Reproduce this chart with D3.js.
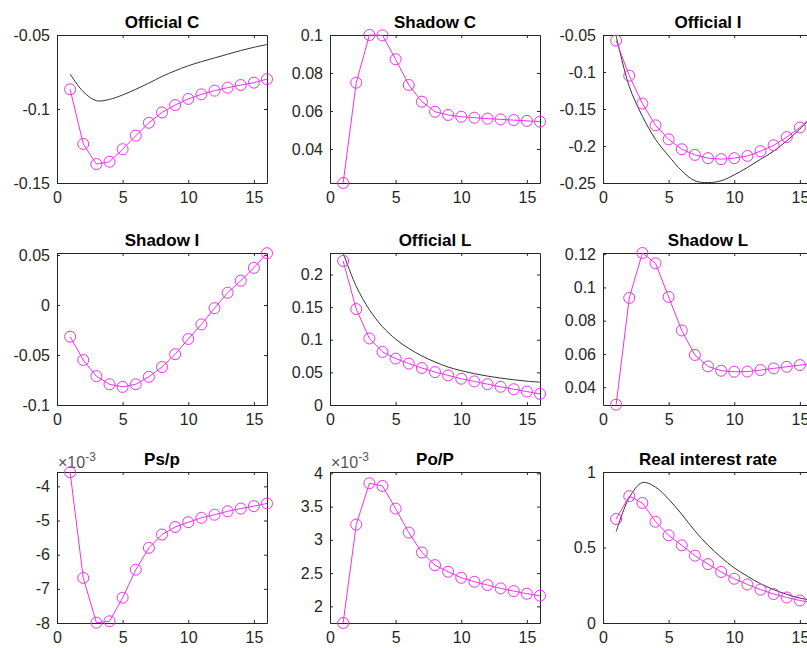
<!DOCTYPE html>
<html>
<head>
<meta charset="utf-8">
<script src="https://cdn.jsdelivr.net/npm/d3@7"></script>
<style>
    body { margin: 0; background: #fff; }
    svg { display: block; font-family: "Liberation Sans", Arial, Helvetica, sans-serif; }
</style>
</head>
<body>
<svg id="chart"></svg>
<script>
// periods on the x axis
const periods = [1, 2, 3, 4, 5, 6, 7, 8, 9, 10, 11, 12, 13, 14, 15, 16];
const xTicks = [0, 5, 10, 15];

// magenta series (circles) and black series (smooth line), one pair per panel
const officialC_circ = [-0.0867, -0.1236, -0.1372, -0.1356, -0.1272, -0.118, -0.1093, -0.1023, -0.0973, -0.0932, -0.0901, -0.0876, -0.0856, -0.0838, -0.0822, -0.0798];
const officialC_line = [-0.0764, -0.0883, -0.0944, -0.0935, -0.0905, -0.0867, -0.0825, -0.078, -0.0742, -0.0708, -0.068, -0.0655, -0.063, -0.0605, -0.0583, -0.0565];

const shadowC_circ = [0.0221, 0.0749, 0.1, 0.0998, 0.0872, 0.0737, 0.0649, 0.0596, 0.0579, 0.057, 0.0565, 0.056, 0.0556, 0.0552, 0.0548, 0.0544];

const officialI_circ = [-0.0576, -0.105, -0.1426, -0.1721, -0.191, -0.2044, -0.212, -0.2164, -0.2178, -0.2164, -0.2134, -0.207, -0.199, -0.188, -0.175, -0.158];
const officialI_line = [-0.051, -0.1194, -0.1597, -0.191, -0.2134, -0.2335, -0.247, -0.2495, -0.247, -0.239, -0.229, -0.218, -0.207, -0.193, -0.177, -0.159];

const shadowI_circ = [-0.0317, -0.055, -0.0712, -0.0793, -0.0819, -0.0793, -0.0718, -0.0621, -0.0492, -0.034, -0.0194, -0.0032, 0.0123, 0.0243, 0.0372, 0.0518];

const officialL_circ = [0.2208, 0.147, 0.102, 0.0814, 0.0712, 0.0635, 0.0567, 0.0505, 0.0454, 0.0402, 0.0361, 0.0319, 0.0279, 0.0242, 0.0206, 0.017];
const officialL_line = [0.233, 0.182, 0.146, 0.12, 0.101, 0.0867, 0.0752, 0.066, 0.0582, 0.0526, 0.048, 0.0443, 0.0412, 0.0387, 0.0365, 0.035];

const shadowL_circ = [0.0295, 0.0937, 0.1207, 0.1145, 0.0943, 0.0741, 0.0594, 0.0525, 0.0499, 0.0493, 0.0494, 0.0503, 0.0513, 0.0523, 0.0533, 0.054];

const psp_circ = [-0.00359, -0.00668, -0.00799, -0.00795, -0.00726, -0.00644, -0.0058, -0.00541, -0.00519, -0.00505, -0.00492, -0.00483, -0.00473, -0.00465, -0.00458, -0.0045];

const pop_circ = [0.00175, 0.00323, 0.00385, 0.00381, 0.00347, 0.00311, 0.00281, 0.00262, 0.00252, 0.00243, 0.00237, 0.00232, 0.00227, 0.00223, 0.00219, 0.00216];

const rate_circ = [0.689, 0.84, 0.795, 0.671, 0.581, 0.514, 0.446, 0.39, 0.338, 0.293, 0.255, 0.221, 0.192, 0.169, 0.149, 0.135];
const rate_line = [0.604, 0.83, 0.93, 0.9, 0.82, 0.72, 0.61, 0.515, 0.435, 0.365, 0.31, 0.26, 0.221, 0.19, 0.165, 0.15];

// y limits and tick labels
const officialC_ylim = [-0.15, -0.05];
const officialC_ticks = [-0.15, -0.1, -0.05];
const shadowC_ylim = [0.0221, 0.1];
const shadowC_ticks = [0.04, 0.06, 0.08, 0.1];
const officialI_ylim = [-0.25, -0.05];
const officialI_ticks = [-0.25, -0.2, -0.15, -0.1, -0.05];
const shadowI_ylim = [-0.1, 0.052];
const shadowI_ticks = [-0.1, -0.05, 0, 0.05];
const officialL_ylim = [0, 0.233];
const officialL_ticks = [0, 0.05, 0.1, 0.15, 0.2];
const shadowL_ylim = [0.0293, 0.1207];
const shadowL_ticks = [0.04, 0.06, 0.08, 0.1, 0.12];
const psp_ylim = [-0.008, -0.00358];
const psp_ticks = [-0.008, -0.007, -0.006, -0.005, -0.004];
const pop_ylim = [0.00175, 0.00402];
const pop_ticks = [0.002, 0.0025, 0.003, 0.0035, 0.004];
const rate_ylim = [0, 1];
const rate_ticks = [0, 0.5, 1];

const panels = [
    { title: 'Official C', circ: officialC_circ, line: officialC_line, ylim: officialC_ylim, ticks: officialC_ticks },
    { title: 'Shadow C', circ: shadowC_circ, line: null, ylim: shadowC_ylim, ticks: shadowC_ticks },
    { title: 'Official I', circ: officialI_circ, line: officialI_line, ylim: officialI_ylim, ticks: officialI_ticks },
    { title: 'Shadow I', circ: shadowI_circ, line: null, ylim: shadowI_ylim, ticks: shadowI_ticks },
    { title: 'Official L', circ: officialL_circ, line: officialL_line, ylim: officialL_ylim, ticks: officialL_ticks },
    { title: 'Shadow L', circ: shadowL_circ, line: null, ylim: shadowL_ylim, ticks: shadowL_ticks },
    { title: 'Ps/p', circ: psp_circ, line: null, ylim: psp_ylim, ticks: psp_ticks, exp: true },
    { title: 'Po/P', circ: pop_circ, line: null, ylim: pop_ylim, ticks: pop_ticks, exp: true },
    { title: 'Real interest rate', circ: rate_circ, line: rate_line, ylim: rate_ylim, ticks: rate_ticks }
];

function drawFigure() {
    const width = 807;
    const height = 648;
    var svg = d3.select('#chart').attr('width', width).attr('height', height);

    const colLeft = [57, 330, 603];
    const rowTop = [35, 253, 472];
    const rowH = [148, 152, 151];
    const plotW = 210;
    const axisColor = '#262626';
    const magenta = '#f030f0';

    panels.forEach(function (p, i) {
        const w = plotW;
        const h = rowH[Math.floor(i / 3)];
        var g = svg.append('g')
            .attr('transform', 'translate(' + colLeft[i % 3] + ',' + rowTop[Math.floor(i / 3)] + ')');

        var x = d3.scaleLinear().domain([0, 16]).range([0, w]);
        var y = d3.scaleLinear().domain(p.ylim).range([h, 0]);

        // Ps/p and Po/P are shown in units of 10^-3
        const scaleK = p.exp ? 1000 : 1;
        const fmt = function (d) { return String(+(d * scaleK).toFixed(4)); };

        // box with inward ticks on all four sides
        var bottom = g.append('g').attr('transform', 'translate(0,' + h + ')')
            .call(d3.axisBottom(x).tickValues(xTicks).tickSizeInner(-3).tickSizeOuter(0).tickPadding(9));
        var top = g.append('g')
            .call(d3.axisTop(x).tickValues(xTicks).tickSizeInner(-3).tickSizeOuter(0).tickFormat(''));
        var left = g.append('g')
            .call(d3.axisLeft(y).tickValues(p.ticks).tickSizeInner(-3).tickSizeOuter(0).tickPadding(7).tickFormat(fmt));
        var right = g.append('g').attr('transform', 'translate(' + w + ',0)')
            .call(d3.axisRight(y).tickValues(p.ticks).tickSizeInner(-3).tickSizeOuter(0).tickFormat(''));

        [bottom, top, left, right].forEach(function (a) {
            a.attr('font-family', null).attr('font-size', 16).attr('color', axisColor);
        });

        // title
        g.append('text')
            .attr('x', w / 2)
            .attr('y', -7)
            .attr('text-anchor', 'middle')
            .attr('font-weight', 'bold')
            .attr('font-size', 17)
            .attr('fill', '#000')
            .text(p.title);

        // exponent label above the y axis
        if (p.exp) {
            var e = g.append('text')
                .attr('x', 1)
                .attr('y', -4)
                .attr('font-size', 16)
                .attr('fill', '#555');
            e.append('tspan').text('\u00d710');
            e.append('tspan').attr('dy', -7).attr('font-size', 12).text('-3');
        }

        // black line
        if (p.line) {
            g.append('path')
                .datum(periods)
                .attr('fill', 'none')
                .attr('stroke', '#333')
                .attr('stroke-width', 1)
                .attr('d', d3.line()
                    .curve(d3.curveCatmullRom)
                    .x(function (d) { return x(d); })
                    .y(function (d, k) { return y(p.line[k]); }));
        }

        // magenta line with circle markers
        g.append('path')
            .datum(periods)
            .attr('fill', 'none')
            .attr('stroke', magenta)
            .attr('stroke-width', 1)
            .attr('d', d3.line()
                .x(function (d) { return x(d); })
                .y(function (d, k) { return y(p.circ[k]); }));

        g.selectAll('circle.mk')
            .data(periods)
            .enter()
            .append('circle')
            .attr('class', 'mk')
            .attr('cx', function (d) { return x(d); })
            .attr('cy', function (d, k) { return y(p.circ[k]); })
            .attr('r', 5.5)
            .attr('fill', 'none')
            .attr('stroke', magenta)
            .attr('stroke-width', 1);
    });
}

drawFigure();
</script>
</body>
</html>
